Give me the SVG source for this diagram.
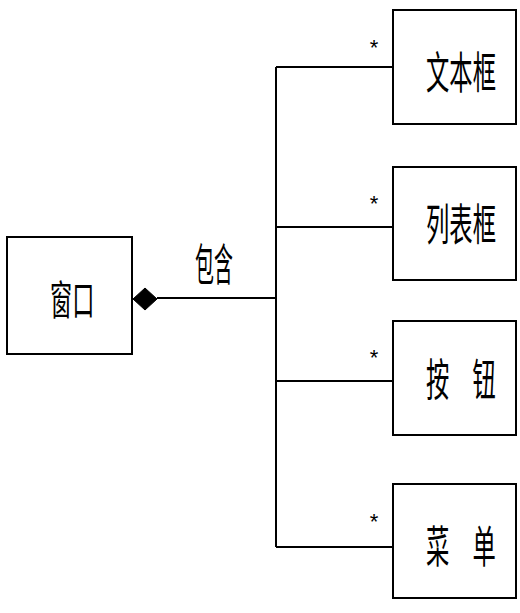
<svg xmlns="http://www.w3.org/2000/svg" width="520" height="613" viewBox="0 0 520 613">
<style>
.box{fill:#fff;stroke:#000;stroke-width:2}
.ln{fill:none;stroke:#000;stroke-width:2}
.t{font-family:"Noto Sans CJK SC","Noto Sans CJK JP",sans-serif;font-size:44px;fill:#000;dominant-baseline:central}
.s{font-family:"Liberation Sans",Arial,sans-serif;font-size:22px;fill:#000;text-anchor:middle}
</style>
<rect width="520" height="613" fill="#fff"/>
<g id="connectors">
<polyline class="ln" points="157,298 276,298"/>
<polyline class="ln" points="276,67 276,547"/>
<polyline class="ln" points="276,67 393,67"/>
<polyline class="ln" points="276,227 393,227"/>
<polyline class="ln" points="276,381 393,381"/>
<polyline class="ln" points="276,547 393,547"/>
<polygon points="133,299 145,288 157,299 145,310" fill="#000" stroke="#000" stroke-width="1"/>
<text class="t" transform="translate(195,262) scale(0.43,1)">包含</text>
<text class="s" x="374" y="55">*</text>
<text class="s" x="374" y="211">*</text>
<text class="s" x="374" y="365">*</text>
<text class="s" x="374" y="529">*</text>
</g>
<g id="window">
<rect class="box" x="7" y="237" width="125" height="117"/>
<text class="t" transform="translate(50,297) scale(0.54,1)" style="font-size:41px">窗口</text>
</g>
<g id="textbox">
<rect class="box" x="393" y="10" width="123" height="114"/>
<text class="t" transform="translate(426,70) scale(0.53,1)">文本框</text>
</g>
<g id="listbox">
<rect class="box" x="393" y="167" width="123" height="113"/>
<text class="t" transform="translate(426,222) scale(0.53,1)">列表框</text>
</g>
<g id="button">
<rect class="box" x="393" y="321" width="123" height="114"/>
<text class="t" transform="translate(426,377) scale(0.53,1)" style="word-spacing:34px">按 钮</text>
</g>
<g id="menu">
<rect class="box" x="393" y="484" width="123" height="114"/>
<text class="t" transform="translate(426,544) scale(0.53,1)" style="word-spacing:34px">菜 单</text>
</g>
</svg>
